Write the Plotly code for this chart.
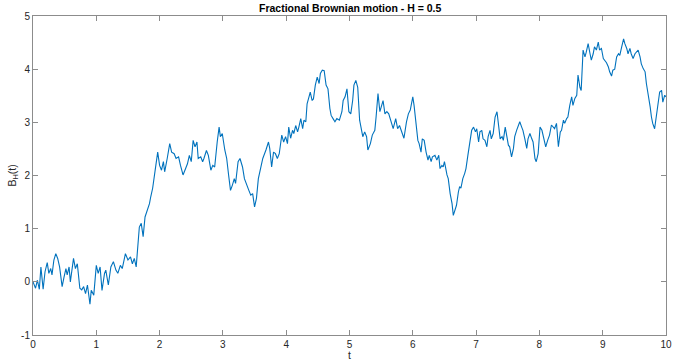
import plotly.graph_objects as go

t_vals = [0.00,0.04,0.07,0.10,0.125,0.16,0.19,0.225,0.25,0.28,0.30,0.33,0.36,0.39,0.42,0.46,0.49,0.52,0.54,0.57,0.59,0.64,0.67,0.70,0.74,0.77,0.80,0.83,0.86,0.90,0.92,0.96,
1.00,1.03,1.06,1.09,1.13,1.15,1.19,1.23,1.27,1.31,1.34,1.38,1.41,1.46,1.50,1.54,1.57,1.60,1.63,1.65,1.68,1.71,1.74,1.77,1.81,1.84,1.86,1.89,1.93,1.97,
2.00,2.03,2.06,2.08,2.12,2.16,2.19,2.23,2.26,2.30,2.33,2.37,2.40,2.44,2.47,2.50,2.53,2.56,2.59,2.61,2.65,2.68,2.70,2.74,2.77,2.81,2.84,2.87,2.91,2.94,2.96,2.99,
3.03,3.06,3.09,3.12,3.15,3.18,3.20,3.24,3.27,3.31,3.34,3.38,3.41,3.44,3.47,3.50,3.53,3.56,3.60,3.63,3.68,3.72,3.74,3.77,3.80,3.83,3.86,3.89,3.93,3.96,3.99,
4.02,4.04,4.07,4.10,4.12,4.15,4.18,4.20,4.23,4.26,4.28,4.31,4.33,4.36,4.38,4.41,4.43,4.46,4.49,4.52,4.54,4.57,4.60,4.63,4.66,4.69,4.71,4.74,4.77,4.80,4.84,4.88,4.90,4.93,4.96,4.99,
5.02,5.05,5.07,5.10,5.13,5.16,5.19,5.21,5.24,5.27,5.29,5.33,5.36,5.40,5.42,5.45,5.48,5.50,5.53,5.56,5.59,5.62,5.65,5.69,5.73,5.76,5.79,5.83,5.86,5.90,5.93,5.96,
6.00,6.02,6.05,6.08,6.10,6.13,6.15,6.18,6.21,6.24,6.26,6.29,6.31,6.35,6.38,6.41,6.43,6.46,6.48,6.50,6.54,6.56,6.59,6.62,6.64,6.67,6.69,6.72,6.74,6.76,6.79,6.82,6.84,6.87,6.90,6.93,6.96,6.99,
7.01,7.04,7.06,7.09,7.11,7.14,7.17,7.19,7.22,7.24,7.27,7.30,7.33,7.35,7.38,7.41,7.43,7.46,7.48,7.51,7.53,7.56,7.59,7.61,7.64,7.67,7.69,7.72,7.74,7.77,7.80,7.82,7.85,7.88,7.90,7.93,7.95,7.98,
8.01,8.04,8.08,8.10,8.13,8.16,8.19,8.22,8.24,8.27,8.30,8.33,8.35,8.38,8.40,8.43,8.45,8.48,8.51,8.53,8.56,8.59,8.61,8.64,8.66,8.69,8.72,8.74,8.77,8.80,8.82,8.85,8.87,8.90,8.93,8.95,8.98,
9.01,9.03,9.06,9.09,9.11,9.14,9.16,9.19,9.22,9.25,9.27,9.30,9.33,9.35,9.38,9.40,9.43,9.45,9.48,9.51,9.53,9.56,9.59,9.61,9.64,9.67,9.69,9.72,9.75,9.77,9.79,9.82,9.85,9.87,9.90,9.93,9.95,9.98,10.00]

b_vals = [0.00,-0.12,0.03,-0.14,0.28,-0.14,0.19,0.36,0.16,0.25,0.13,0.41,0.53,0.44,0.28,-0.09,0.09,0.25,0.13,0.28,0.00,0.44,0.25,0.34,-0.12,-0.15,-0.09,-0.22,-0.06,-0.42,-0.16,-0.25,
0.31,0.16,0.28,-0.16,0.16,0.22,-0.06,0.28,0.38,0.22,0.16,0.31,0.25,0.53,0.41,0.47,0.34,0.44,0.28,0.56,1.03,1.10,0.85,1.22,1.35,1.47,1.60,1.76,2.10,2.44,
2.19,2.10,2.26,2.07,2.32,2.60,2.44,2.41,2.32,2.35,2.19,2.01,2.10,2.22,2.38,2.26,2.66,2.54,2.63,2.32,2.35,2.26,2.32,2.47,2.38,2.10,2.19,2.16,2.63,2.91,2.73,2.79,
2.48,2.32,2.01,1.72,1.82,1.94,1.85,2.26,2.32,2.16,1.94,1.79,1.72,1.63,1.66,1.41,1.57,1.94,2.13,2.32,2.48,2.63,2.51,2.16,2.44,2.41,2.32,2.41,2.76,2.63,2.73,
2.60,2.91,2.70,2.85,2.79,2.94,2.82,2.91,3.07,2.88,3.04,3.01,3.35,3.48,3.57,3.41,3.44,3.70,3.85,3.73,3.92,3.98,3.97,3.70,3.63,3.26,3.13,3.07,3.01,3.07,3.04,3.20,3.41,3.48,3.63,3.20,
3.16,3.41,3.70,3.79,3.66,3.04,2.85,2.73,2.82,2.73,2.48,2.60,2.76,2.85,3.10,3.54,3.20,3.29,3.41,3.16,3.20,3.16,3.04,2.88,3.07,2.88,2.94,2.82,2.70,3.01,3.16,3.23,
3.48,3.32,2.95,2.66,2.60,2.44,2.69,2.66,2.44,2.29,2.38,2.26,2.35,2.38,2.29,2.38,2.13,2.19,2.16,2.26,2.01,1.94,1.66,1.47,1.25,1.38,1.44,1.69,1.79,1.76,1.94,2.04,2.13,2.38,2.66,2.85,2.91,2.82,
2.88,2.63,2.82,2.85,2.69,2.66,2.54,2.73,2.85,2.69,2.79,3.10,3.20,2.98,2.69,2.73,2.66,2.91,2.76,2.57,2.54,2.35,2.51,2.73,2.85,2.94,3.01,2.91,2.85,2.69,2.51,2.69,2.79,2.69,2.63,2.32,2.26,2.41,
2.91,2.85,2.66,2.54,2.66,2.76,2.95,2.91,2.88,2.98,2.54,2.82,2.85,3.04,2.98,3.07,3.10,3.32,3.48,3.32,3.45,3.51,3.89,3.66,3.60,4.36,4.23,4.32,4.48,4.29,4.17,4.29,4.42,4.36,4.51,4.36,4.39,
4.20,4.17,4.12,4.04,3.95,3.87,3.98,4.00,4.23,4.29,4.26,4.42,4.57,4.48,4.39,4.29,4.39,4.29,4.20,4.29,4.32,4.36,4.23,4.10,4.01,3.95,3.73,3.54,3.29,3.10,2.98,2.88,3.16,3.35,3.57,3.60,3.38,3.51,3.48]

x_ticks = list(range(0, 11))
y_ticks = list(range(-1, 6))

FONT = "Liberation Sans, Arial, sans-serif"

fig = go.Figure()
fig.add_trace(go.Scatter(x=t_vals, y=b_vals, mode="lines",
                         line=dict(color="#0072BD", width=1.1), showlegend=False))

axis_common = dict(showline=True, linecolor="#8c8c8c", linewidth=1, mirror="ticks",
                   ticks="inside", ticklen=5, tickcolor="#8c8c8c", showgrid=False,
                   zeroline=False, automargin=False,
                   tickfont=dict(family=FONT, size=10, color="#262626"))

fig.update_layout(
    width=673, height=360,
    margin=dict(l=33, r=7, t=16, b=25, autoexpand=False),
    paper_bgcolor="white", plot_bgcolor="white",
    xaxis=dict(range=[0, 10], tickvals=x_ticks, ticktext=[str(v) for v in x_ticks], **axis_common),
    yaxis=dict(range=[-1, 5], tickvals=y_ticks, ticktext=[str(v) for v in y_ticks], **axis_common),
    annotations=[
        dict(text="<b>Fractional Brownian motion - H = 0.5</b>", xref="paper", yref="paper",
             x=0.5, y=1, xanchor="center", yanchor="bottom", yshift=0, showarrow=False,
             font=dict(family=FONT, size=10.5, color="#000000")),
        dict(text="t", xref="paper", yref="paper", x=0.5, y=0, xanchor="center", yanchor="top",
             yshift=-12, showarrow=False, font=dict(family=FONT, size=10.5, color="#262626")),
        dict(text="B<sub>H</sub>(t)", xref="paper", yref="paper", x=0, y=0.5, xanchor="center",
             yanchor="middle", xshift=-21, textangle=-90, showarrow=False,
             font=dict(family=FONT, size=10.5, color="#262626")),
    ],
)

fig.write_html("out.html", config={"displayModeBar": False},
               post_script="document.body.style.margin='0';")
